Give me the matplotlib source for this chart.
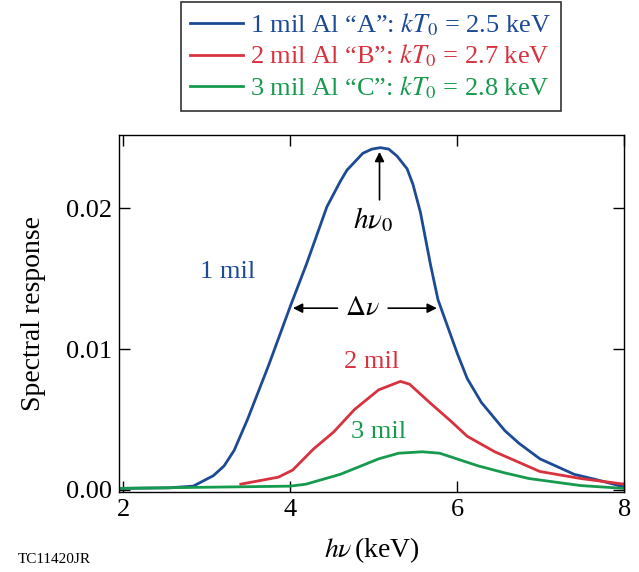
import numpy as np
import matplotlib; matplotlib.use("Agg"); import matplotlib.pyplot as plt

plt.rcParams["font.family"] = ["Liberation Serif", "DejaVu Serif"]
plt.rcParams["mathtext.fontset"] = "stix"

# spectral response curves (x in keV)
x_a = [1.95, 2.55, 2.84, 3.08, 3.21, 3.33, 3.49, 3.74, 4.0, 4.20, 4.44, 4.60, 4.68, 4.87, 4.98, 5.08, 5.18, 5.28,
       5.40, 5.47, 5.56, 5.68, 5.77, 6.0, 6.12, 6.29, 6.57, 6.74, 6.99, 7.40, 7.68, 8.0]
y_a = [0.0001, 0.00014, 0.00026, 0.001, 0.0017, 0.0028, 0.005, 0.0088, 0.0130, 0.0161, 0.0201, 0.0219, 0.0227, 0.0239, 0.0242, 0.0243, 0.0242, 0.0237,
       0.0228, 0.0217, 0.0197, 0.0160, 0.0135, 0.0097, 0.0079, 0.0062, 0.0042, 0.0033, 0.0022, 0.0011, 0.0007, 0.0002]
x_b = [3.41, 3.86, 4.03, 4.28, 4.52, 4.77, 5.06, 5.32, 5.43, 5.67, 5.92, 6.12, 6.45, 6.99, 7.48, 8.0]
y_b = [0.0004, 0.0009, 0.0014, 0.0029, 0.0041, 0.0057, 0.0071, 0.0077, 0.0075, 0.0062, 0.0049, 0.0038, 0.0027, 0.0013, 0.0008, 0.0004]
x_c = [1.95, 4.0, 4.19, 4.60, 4.81, 5.06, 5.30, 5.58, 5.79, 6.25, 6.57, 6.86, 7.48, 8.0]
y_c = [0.0001, 0.00026, 0.0004, 0.0011, 0.0016, 0.0022, 0.0026, 0.0027, 0.0026, 0.0017, 0.0012, 0.0008, 0.0003, 0.0001]
labels = [r"1 mil Al “A”: $kT_0$ = 2.5 keV", r"2 mil Al “B”: $kT_0$ = 2.7 keV", r"3 mil Al “C”: $kT_0$ = 2.8 keV"]
colors = ["#1d4a94", "#d8323e", "#169a4e"]

fig = plt.figure(figsize=(6.39, 5.72), dpi=100)
ax = fig.add_axes([0.186, 0.140, 0.791, 0.624])
for xs, ys, c, lab in zip([x_a, x_b, x_c], [y_a, y_b, y_c], colors, labels):
    ax.plot(xs, ys, color=c, lw=2, label=lab, solid_joinstyle="round")

ax.set_xlim(1.95, 8); ax.set_ylim(-0.00015, 0.0252)
ax.set_xticks([2, 4, 6, 8]); ax.set_yticks([0, 0.01, 0.02])
ax.set_yticklabels(["0.00", "0.01", "0.02"])
ax.tick_params(direction="in", length=8, width=1, top=True, right=True, labelsize=19, pad=5)
for s in ax.spines.values(): s.set_linewidth(1)
ax.set_xlabel(r"$h\nu\,$(keV)", fontsize=20, labelpad=10)
ax.set_ylabel("Spectral response", fontsize=20, labelpad=14)

ax.text(3.25, 0.0155, "1 mil", color=colors[0], fontsize=19, ha="center", va="center")
ax.text(4.97, 0.0091, "2 mil", color=colors[1], fontsize=19, ha="center", va="center")
ax.text(5.06, 0.0041, "3 mil", color=colors[2], fontsize=19, ha="center", va="center")
ax.annotate("", xy=(5.07, 0.0242), xytext=(5.07, 0.0204),
            arrowprops=dict(arrowstyle="-|>", color="black", lw=1.2, mutation_scale=14))
ax.text(4.99, 0.0192, r"$h\nu_0$", fontsize=21, ha="center", va="center")
ax.annotate("", xy=(4.0, 0.0129), xytext=(4.6, 0.0129),
            arrowprops=dict(arrowstyle="-|>", color="black", lw=1.2, mutation_scale=14))
ax.annotate("", xy=(5.79, 0.0129), xytext=(5.14, 0.0129),
            arrowprops=dict(arrowstyle="-|>", color="black", lw=1.2, mutation_scale=14))
ax.text(4.87, 0.0129, r"$\Delta\nu$", fontsize=20, ha="center", va="center")

leg = fig.legend(loc="upper center", bbox_to_anchor=(0.58, 0.997), fontsize=19, frameon=True,
                 fancybox=False, edgecolor="black", labelcolor="linecolor", handlelength=2.0,
                 handletextpad=0.3, labelspacing=0.2, borderpad=0.35, borderaxespad=0)
leg.get_frame().set_linewidth(1.2)
fig.text(0.028, 0.016, "TC11420JR", fontsize=11)
fig.savefig("out.png", dpi=100)
